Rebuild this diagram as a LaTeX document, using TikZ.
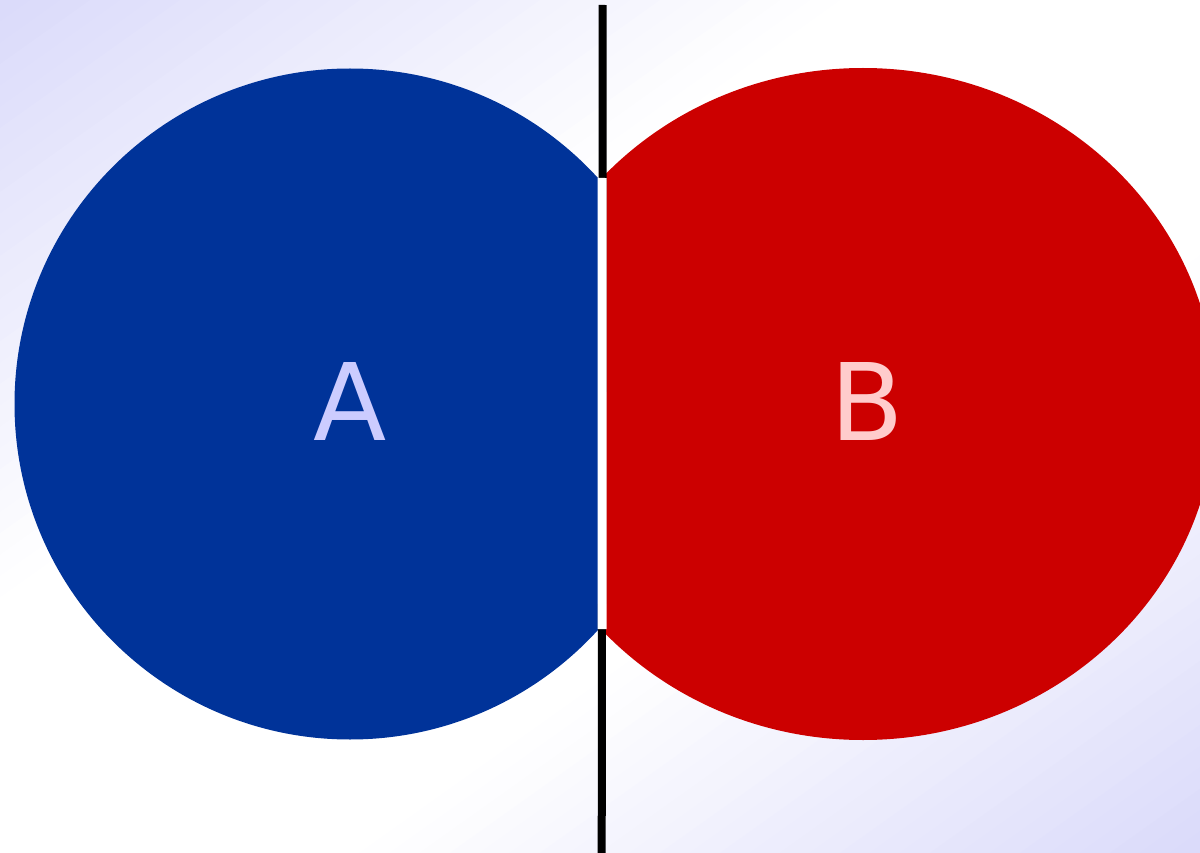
\documentclass[tikz,border=0pt]{standalone}
\usepackage{fontspec}
\setmainfont{DejaVu Sans}
\usetikzlibrary{shapes.geometric}
\definecolor{bluecolor}{RGB}{0, 51, 153}
\definecolor{redcolor}{RGB}{204, 0, 0}
\definecolor{bgcolor}{RGB}{218, 218, 250}
\definecolor{letterA}{RGB}{204, 204, 255}
\definecolor{letterB}{RGB}{255, 204, 204}
\begin{document}
\begin{tikzpicture}[
    x=1pt, y=-1pt,
    blob/.style={draw=none, inner sep=0pt, outer sep=0pt},
    letter/.style={inner sep=0pt, font=\fontsize{107}{107}\selectfont},
    divider/.style={line width=8pt, black}
]

% Background (diagonal gradient, corner to corner)
\useasboundingbox (0,0) rectangle (1200,853);
\begin{scope}
\clip (0,0) rectangle (1200,853);
\foreach \i in {0,...,79} {
    \pgfmathsetmacro\ca{\i/40}
    \pgfmathsetmacro\cb{(\i+1.2)/40}
    \pgfmathsetmacro\pct{max(0,(abs(1-(\i+0.5)/40)-0.3)/0.7)*100}
    \fill[bgcolor!\pct!white] (1200*\ca,0) -- (1200*\cb,0) -- (0,853*\cb) -- (0,853*\ca) -- cycle;
}
\end{scope}

% Left half
\begin{scope}
\clip (0,0) rectangle (602,853);
\node[blob, circle, fill=bluecolor, minimum size=671pt] (blobA) at (350,404) {};
\end{scope}

% Right half
\begin{scope}
\clip (602,0) rectangle (1200,853);
\node[blob, ellipse, fill=redcolor, minimum width=706pt, minimum height=672pt] (blobB) at (863,404) {};
\end{scope}

% Labels
\node[letter, text=letterA] (labelA) at (350,401) {A};
\node[letter, text=letterB] (labelB) at (867,401) {B};

% Divider
\coordinate (top) at (602.7,5);
\coordinate (bottom) at (601.7,853);
\coordinate (gaptop) at (602.2,178);
\coordinate (gapbottom) at (602.0,629);
\draw[divider] (top) -- (bottom);
\draw[white, line width=9pt] (gaptop) -- (gapbottom);

\end{tikzpicture}
\end{document}
